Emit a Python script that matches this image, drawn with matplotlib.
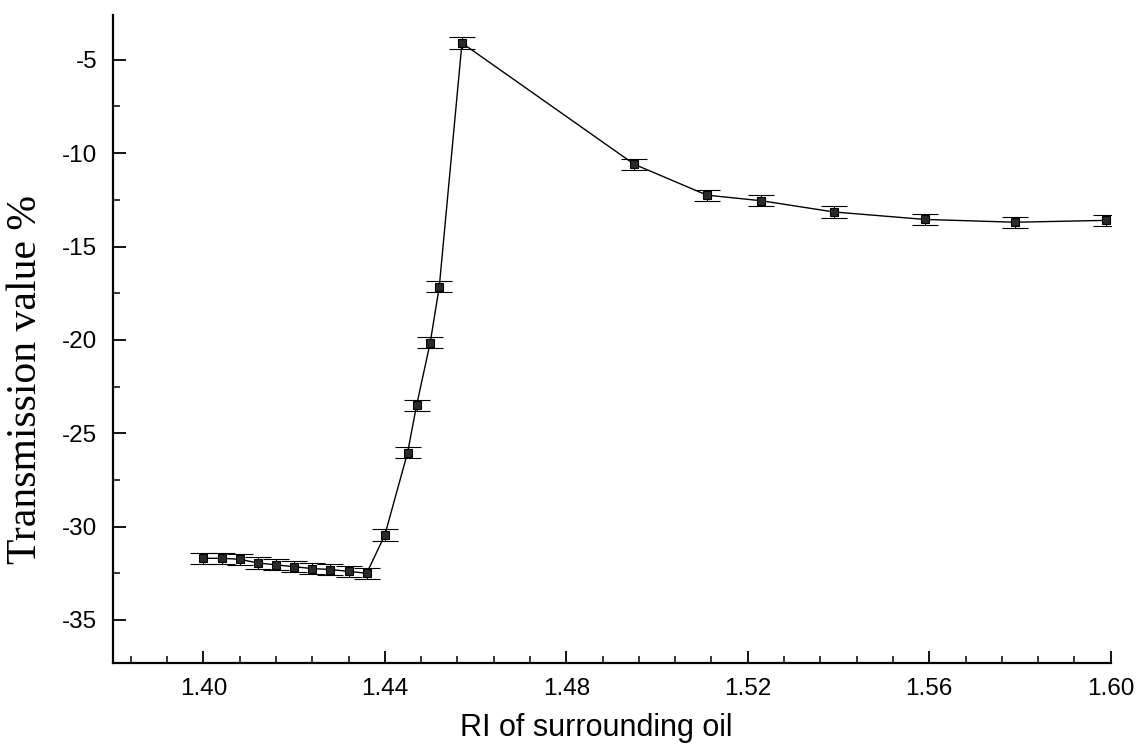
import numpy as np
import matplotlib
matplotlib.use("Agg")
import matplotlib.pyplot as plt
from matplotlib.ticker import MultipleLocator, FormatStrFormatter

# RI of the surrounding oil and the measured transmission dip (%)
ri = [1.400, 1.404, 1.408, 1.412, 1.416, 1.420, 1.424, 1.428, 1.432, 1.436,
      1.440, 1.445, 1.447, 1.450, 1.452, 1.457,
      1.495, 1.511, 1.523, 1.539, 1.559, 1.579, 1.599]
transmission = [-31.7, -31.7, -31.75, -31.95, -32.05, -32.15, -32.25, -32.3, -32.4, -32.5,
                -30.45, -26.05, -23.5, -20.15, -17.15, -4.1,
                -10.6, -12.25, -12.55, -13.15, -13.55, -13.7, -13.6]
error = [0.3] * len(ri)

plt.rcParams['axes.unicode_minus'] = False

fig = plt.figure(figsize=(11.38, 7.49), dpi=100)
ax = fig.add_axes([0.099, 0.115, 0.877, 0.865])

ax.errorbar(ri, transmission, yerr=error, color='black', linewidth=1.0,
            elinewidth=0.8, capsize=9.5, capthick=0.9,
            marker='s', markersize=5.5, markerfacecolor='#2a2a2a',
            markeredgecolor='black', markeredgewidth=0.8)

ax.set_xlim(1.38, 1.60)
ax.set_ylim(-37.3, -2.6)

ax.xaxis.set_major_locator(MultipleLocator(0.04))
ax.xaxis.set_minor_locator(MultipleLocator(0.008))
ax.xaxis.set_major_formatter(FormatStrFormatter('%.2f'))
ax.yaxis.set_major_locator(MultipleLocator(5))
ax.yaxis.set_minor_locator(MultipleLocator(2.5))

for side in ('top', 'right'):
    ax.spines[side].set_visible(False)
for side in ('left', 'bottom'):
    ax.spines[side].set_linewidth(1.6)

ax.tick_params(which='major', direction='in', length=9, width=1.3,
               labelsize=17.5, pad=11)
ax.tick_params(which='minor', direction='in', length=5, width=1.1)
for lab in ax.get_xticklabels() + ax.get_yticklabels():
    lab.set_family(['Liberation Sans', 'DejaVu Sans'])

ax.set_xlabel('RI of surrounding oil', fontsize=22,
              family=['Liberation Sans', 'DejaVu Sans'])
ax.set_ylabel('Transmission value %', fontsize=30,
              family=['Liberation Serif', 'DejaVu Serif'])
ax.xaxis.set_label_coords(0.485, -0.078)
ax.yaxis.set_label_coords(-0.068, 0.437)

fig.savefig('out.png', dpi=100)
